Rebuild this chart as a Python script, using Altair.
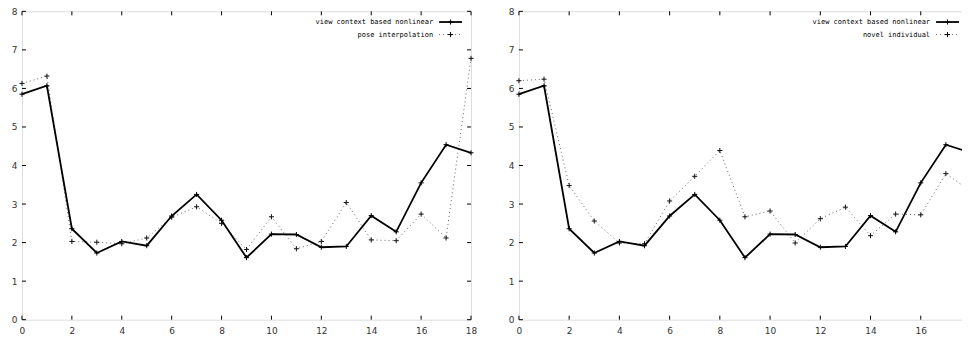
import altair as alt
import pandas as pd

# ---------------- data ----------------
x_vals = list(range(19))

view_context = [5.85, 6.07, 2.36, 1.73, 2.03, 1.92, 2.69, 3.25, 2.58, 1.61,
                2.22, 2.21, 1.88, 1.90, 2.70, 2.28, 3.55, 4.54, 4.33]
pose_interp = [6.13, 6.32, 2.03, 2.01, 1.97, 2.12, 2.66, 2.93, 2.50, 1.82,
               2.67, 1.84, 2.03, 3.04, 2.07, 2.05, 2.74, 2.12, 6.78]
novel_indiv = [6.20, 6.24, 3.48, 2.56, 1.99, 1.97, 3.08, 3.72, 4.39, 2.67,
               2.82, 1.99, 2.62, 2.92, 2.18, 2.74, 2.72, 3.79, 3.33]

name_main = "view context based nonlinear"
name_left = "pose interpolation"
name_right = "novel individual"

x_ticks = [0, 2, 4, 6, 8, 10, 12, 14, 16, 18]
y_ticks = [0, 1, 2, 3, 4, 5, 6, 7, 8]

H = 309
TICK = 4
CROSS = "M-1,0L1,0M0,-1L0,1"
LABEL_FONT = "DejaVu Sans"
LEG_FONT = "DejaVu Sans Mono"


def panel(second_vals, second_name, width):
    xs = alt.Scale(domain=[0, 18], nice=False, zero=False)
    ys = alt.Scale(domain=[0, 8], nice=False, zero=False)
    xaxis = alt.Axis(values=x_ticks, tickSize=0, domain=False, grid=False,
                     title=None, labelFont=LABEL_FONT, labelFontSize=9,
                     labelColor="#333", labelPadding=7, labelFlush=False,
                     labelOverlap=False)
    yaxis = alt.Axis(values=y_ticks, tickSize=0, domain=False, grid=False,
                     title=None, labelFont=LABEL_FONT, labelFontSize=9,
                     labelColor="#333", labelPadding=5, labelOverlap=False)

    def X(f):
        return alt.X(f, scale=xs, axis=xaxis)

    def Y(f):
        return alt.Y(f, scale=ys, axis=yaxis)

    d1 = pd.DataFrame({"x": x_vals, "y": view_context})
    d2 = pd.DataFrame({"x": x_vals, "y": second_vals})

    base1 = alt.Chart(d1)
    base2 = alt.Chart(d2)

    line2 = base2.mark_line(color="#666", strokeWidth=1, strokeDash=[1, 3]).encode(
        x=X("x:Q"), y=Y("y:Q"))
    pts2 = base2.mark_point(shape=CROSS, size=26, filled=False, color="#111",
                            strokeWidth=1, opacity=1).encode(x=X("x:Q"), y=Y("y:Q"))
    line1 = base1.mark_line(color="#000", strokeWidth=1.8).encode(
        x=X("x:Q"), y=Y("y:Q"))
    pts1 = base1.mark_point(shape=CROSS, size=26, filled=False, color="#000",
                            strokeWidth=1, opacity=1).encode(x=X("x:Q"), y=Y("y:Q"))

    xt = pd.DataFrame({"t": x_ticks})
    yt = pd.DataFrame({"t": y_ticks})
    tb = alt.Chart(xt).mark_rule(color="#000", strokeWidth=1).encode(
        x=X("t:Q"), y=alt.value(H), y2=alt.value(H - TICK))
    tt = alt.Chart(xt).mark_rule(color="#000", strokeWidth=1).encode(
        x=X("t:Q"), y=alt.value(0), y2=alt.value(TICK))
    tl = alt.Chart(yt).mark_rule(color="#000", strokeWidth=1).encode(
        y=Y("t:Q"), x=alt.value(0), x2=alt.value(TICK))
    tr = alt.Chart(yt).mark_rule(color="#000", strokeWidth=1).encode(
        y=Y("t:Q"), x=alt.value(width), x2=alt.value(width - TICK))

    # legend (gnuplot style: text then sample on the right)
    lt1 = alt.Chart(pd.DataFrame({"name": [name_main]})).mark_text(
        align="right", baseline="middle", font=LEG_FONT, fontSize=7, color="#000").encode(
        text="name:N", x=alt.value(412), y=alt.value(10.7))
    lt2 = alt.Chart(pd.DataFrame({"name": [second_name]})).mark_text(
        align="right", baseline="middle", font=LEG_FONT, fontSize=7, color="#000").encode(
        text="name:N", x=alt.value(412), y=alt.value(23.3))
    lr1 = alt.Chart(pd.DataFrame({"name": [name_main]})).mark_rule(
        color="#000", strokeWidth=1.8).encode(
        x=alt.value(418), x2=alt.value(441), y=alt.value(10.7))
    lr2 = alt.Chart(pd.DataFrame({"name": [second_name]})).mark_rule(
        color="#666", strokeWidth=1, strokeDash=[1, 3]).encode(
        x=alt.value(418), x2=alt.value(441), y=alt.value(23.3))
    lp1 = alt.Chart(pd.DataFrame({"name": [name_main]})).mark_point(
        shape=CROSS, size=26, filled=False, color="#000", strokeWidth=1, opacity=1).encode(
        x=alt.value(429.5), y=alt.value(10.7))
    lp2 = alt.Chart(pd.DataFrame({"name": [second_name]})).mark_point(
        shape=CROSS, size=26, filled=False, color="#000", strokeWidth=1, opacity=1).encode(
        x=alt.value(429.5), y=alt.value(23.3))

    return alt.layer(line2, pts2, line1, pts1, tb, tt, tl, tr,
                     lt1, lt2, lr1, lr2, lp1, lp2).properties(width=width, height=H)


left = panel(pose_interp, name_left, 450)
right = panel(novel_indiv, name_right, 453)

chart = alt.hconcat(left, right, spacing=29).properties(
    padding={"left": 2, "top": -2, "right": -16, "bottom": 0}
).configure_view(stroke="#000", strokeWidth=1.6).configure(background="white")

chart.save("out.html", embed_options={"renderer": "svg", "actions": False})
